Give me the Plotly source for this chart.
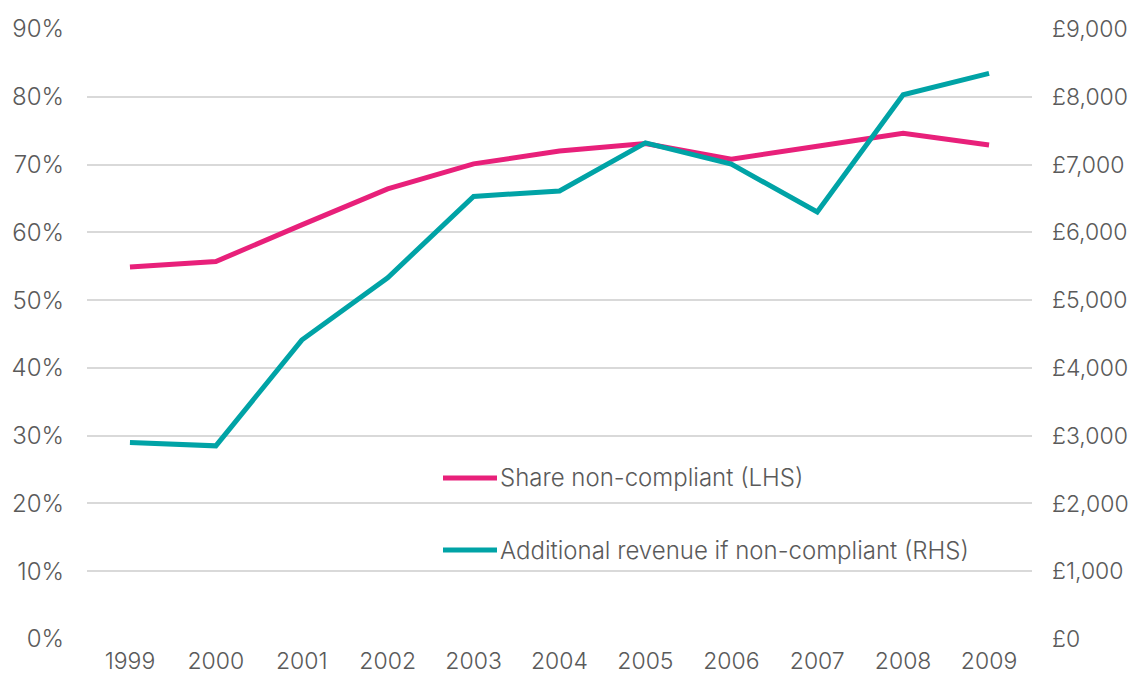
import plotly.graph_objects as go

years = ["1999", "2000", "2001", "2002", "2003", "2004", "2005", "2006", "2007", "2008", "2009"]
share_non_compliant = [0.549, 0.557, 0.611, 0.664, 0.701, 0.720, 0.731, 0.708, 0.727, 0.746, 0.729]
additional_revenue = [2900, 2850, 4410, 5330, 6530, 6610, 7320, 7008, 6300, 8030, 8345]
series_names = ["Share non-compliant (LHS)", "Additional revenue if non-compliant (RHS)"]

pct_ticks = [i / 10 for i in range(10)]
pct_labels = [f"{int(round(v * 100))}%" for v in pct_ticks]
gbp_ticks = [i * 1000 for i in range(10)]
gbp_labels = ["£" + f"{v:,}" for v in gbp_ticks]

PINK = "#E8207A"
TEAL = "#00A3A6"
GREY = "#5A5A5A"
FONT = "Inter"
FS = 24

# page body has an 8px default margin; compensate so the plot lands where the reference has it
OFF = 8
W, H = 1138 - OFF, 677 - OFF
L, R, T, B = 87 - OFF, 106, 29 - OFF, 38
PW, PH = W - L - R, H - T - B

fig = go.Figure()
fig.add_trace(go.Scatter(
    x=years, y=share_non_compliant, mode="lines", name=series_names[0],
    line=dict(color=PINK, width=5), yaxis="y",
))
fig.add_trace(go.Scatter(
    x=years, y=additional_revenue, mode="lines", name=series_names[1],
    line=dict(color=TEAL, width=5), yaxis="y2",
))

def tf(size):
    return dict(family=FONT, size=size, color=GREY, weight=300)

fig.update_layout(
    width=W, height=H,
    margin=dict(l=L, r=R, t=T, b=B, autoexpand=False),
    paper_bgcolor="white", plot_bgcolor="white",
    font=tf(FS),
    showlegend=False,
    xaxis=dict(type="category", range=[-0.5, 10.5], showgrid=False, showline=False,
               ticks="", ticklabelstandoff=6, tickfont=tf(23), automargin=False),
    yaxis=dict(range=[0, 0.9], tickvals=pct_ticks, ticktext=pct_labels, showgrid=True,
               gridcolor="#D9D9D9", gridwidth=1.5, zeroline=False, showline=False,
               ticks="", ticklabelstandoff=22, tickfont=tf(FS), automargin=False),
    yaxis2=dict(range=[0, 9000], tickvals=gbp_ticks, ticktext=gbp_labels,
                overlaying="y", side="right", showgrid=False, zeroline=False,
                showline=False, ticks="", ticklabelstandoff=19,
                tickfont=tf(23), automargin=False),
)

# manual legend (inside plot area), positions given in page pixels
legend_rows_px = [478, 550]
colors = [PINK, TEAL]
for name, col, ypx in zip(series_names, colors, legend_rows_px):
    yp = (639 - ypx) / PH
    fig.add_shape(type="line", xref="paper", yref="paper",
                  x0=(443 - 87) / PW, x1=(497 - 87) / PW, y0=yp, y1=yp,
                  line=dict(color=col, width=5))
    fig.add_annotation(xref="paper", yref="paper", x=(498 - 87) / PW, y=yp,
                       xanchor="left", yanchor="middle", text=name, showarrow=False,
                       font=tf(FS))

fig.write_html("out.html")
